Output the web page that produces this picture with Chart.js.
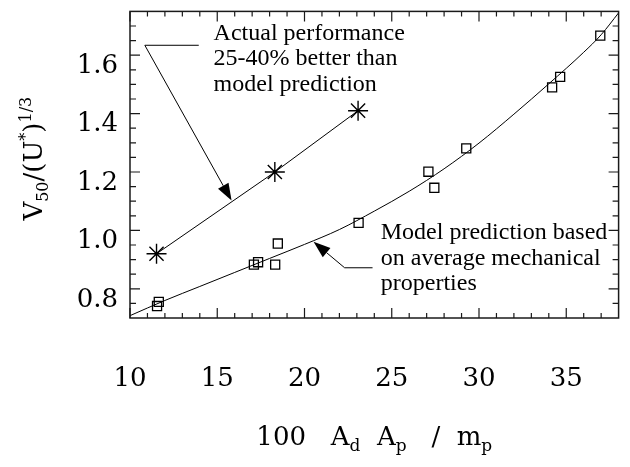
<!DOCTYPE html>
<html><head><meta charset="utf-8">
<script src="https://cdn.jsdelivr.net/npm/chart.js@4.4.1/dist/chart.umd.min.js"></script>
<style>html,body{margin:0;padding:0;background:#fff;}canvas{display:block;}</style>
</head><body>
<canvas id="c" width="630" height="467"></canvas>
<script>
// ---- data ----
const starX = [11.52, 18.30, 23.07];
const starY = [0.92, 1.20, 1.41];
const squareX = [11.55, 11.65, 17.10, 17.34, 18.32, 18.47, 23.10, 27.10, 27.44, 29.27, 34.19, 34.65, 36.95];
const squareY = [0.741, 0.755, 0.883, 0.891, 0.883, 0.955, 1.026, 1.201, 1.146, 1.281, 1.490, 1.526, 1.667];
const modelX = [10, 12, 14, 16, 18, 20, 22, 24, 26, 28, 30, 32, 34, 36, 37, 38];
const modelY = [0.708, 0.760, 0.808, 0.856, 0.904, 0.952, 1.003, 1.066, 1.134, 1.211, 1.299, 1.398, 1.502, 1.610, 1.670, 1.745];

const xTickValues = [10, 15, 20, 25, 30, 35];
const xTickLabels = ['10', '15', '20', '25', '30', '35'];
const yTickValues = [0.8, 1.0, 1.2, 1.4, 1.6];
const yTickLabels = ['0.8', '1.0', '1.2', '1.4', '1.6'];
const xMinorTicks = [11,12,13,14,16,17,18,19,21,22,23,24,26,27,28,29,31,32,33,34,36,37];
const yMinorTicks = [0.75,0.85,0.9,0.95,1.05,1.1,1.15,1.25,1.3,1.35,1.45,1.5,1.55,1.65,1.7];

const note1Lines = ['Actual performance', '25-40% better than', 'model prediction'];
const note2Lines = ['Model prediction based', 'on average mechanical', 'properties'];
// annotation anchors in data units
const note1Text = [14.79, [1.651, 1.565, 1.478]];
const note1Path = [[13.94, 1.634], [10.85, 1.634], [15.82, 1.102]];
const note2Text = [24.37, [0.971, 0.880, 0.795]];
const note2Path = [[23.90, 0.872], [22.30, 0.872], [20.52, 0.961]];

const SERIF = '"DejaVu Serif", serif';
const TIMES = '"Liberation Serif", "Times New Roman", serif';

function pts(xs, ys) { return xs.map((x, i) => ({ x: x, y: ys[i] })); }

function drawRich(ctx, segs, cx, baseY, big, small) {
  let total = 0;
  segs.forEach(s => {
    ctx.font = (s.k === 0 ? big : small) + 'px ' + SERIF;
    s.w = ctx.measureText(s.t).width; total += s.w;
  });
  let x = cx - total / 2;
  ctx.textAlign = 'left'; ctx.textBaseline = 'alphabetic';
  segs.forEach(s => {
    ctx.font = (s.k === 0 ? big : small) + 'px ' + SERIF;
    const dy = s.k === 1 ? big * 0.24 : (s.k === 2 ? -big * 0.42 : 0);
    ctx.fillText(s.t, x, baseY + dy);
    x += s.w;
  });
}

function arrowPath(ctx, path, xs, ys) {
  const p = path.map(q => [xs.getPixelForValue(q[0]), ys.getPixelForValue(q[1])]);
  const tip = p[p.length - 1], prev = p[p.length - 2];
  const dx = tip[0] - prev[0], dy = tip[1] - prev[1];
  const L = Math.hypot(dx, dy), ux = dx / L, uy = dy / L;
  const hl = 17, hw = 6;
  const bx = tip[0] - ux * hl, by = tip[1] - uy * hl;
  ctx.beginPath();
  ctx.moveTo(p[0][0], p[0][1]);
  for (let i = 1; i < p.length - 1; i++) ctx.lineTo(p[i][0], p[i][1]);
  ctx.lineTo(bx, by);
  ctx.lineWidth = 1; ctx.strokeStyle = '#000'; ctx.stroke();
  ctx.beginPath();
  ctx.moveTo(tip[0], tip[1]);
  ctx.lineTo(bx - uy * hw, by + ux * hw);
  ctx.lineTo(bx + uy * hw, by - ux * hw);
  ctx.closePath(); ctx.fillStyle = '#000'; ctx.fill();
}

const decor = {
  id: 'decor',
  afterDatasetsDraw(chart) {
    const ctx = chart.ctx, a = chart.chartArea;
    const xs = chart.scales.x, ys = chart.scales.y;
    ctx.save();
    // frame
    ctx.strokeStyle = '#1a1a1a'; ctx.lineWidth = 1.5;
    ctx.strokeRect(a.left, a.top, a.right - a.left, a.bottom - a.top);
    ctx.lineWidth = 1.2;
    ctx.beginPath();
    const xt = (v, len) => { const px = xs.getPixelForValue(v);
      ctx.moveTo(px, a.bottom); ctx.lineTo(px, a.bottom - len);
      ctx.moveTo(px, a.top); ctx.lineTo(px, a.top + len); };
    const yt = (v, len) => { const py = ys.getPixelForValue(v);
      ctx.moveTo(a.left, py); ctx.lineTo(a.left + len, py);
      ctx.moveTo(a.right, py); ctx.lineTo(a.right - len, py); };
    xTickValues.forEach(v => xt(v, 10));
    xMinorTicks.forEach(v => xt(v, 5));
    yTickValues.forEach(v => yt(v, 10));
    yMinorTicks.forEach(v => yt(v, 6));
    ctx.stroke();
    // annotations
    arrowPath(ctx, note1Path, xs, ys);
    arrowPath(ctx, note2Path, xs, ys);
    ctx.fillStyle = '#000'; ctx.font = '24px ' + TIMES;
    ctx.textAlign = 'left'; ctx.textBaseline = 'alphabetic';
    note1Lines.forEach((t, i) => ctx.fillText(t, xs.getPixelForValue(note1Text[0]), ys.getPixelForValue(note1Text[1][i])));
    note2Lines.forEach((t, i) => ctx.fillText(t, xs.getPixelForValue(note2Text[0]), ys.getPixelForValue(note2Text[1][i])));
    // axis titles
    drawRich(ctx, [
      { t: '100   A', k: 0 }, { t: 'd', k: 1 }, { t: '  A', k: 0 }, { t: 'p', k: 1 },
      { t: '   /  m', k: 0 }, { t: 'p', k: 1 }
    ], (a.left + a.right) / 2, 445, 26, 17);
    ctx.translate(42, (a.top + a.bottom) / 2 - 6);
    ctx.rotate(-Math.PI / 2);
    drawRich(ctx, [
      { t: 'V', k: 0 }, { t: '50', k: 1 }, { t: '/(U', k: 0 }, { t: '*', k: 2 },
      { t: ')', k: 0 }, { t: '1/3', k: 2 }
    ], 0, 0, 26, 16);
    ctx.restore();
  }
};

new Chart(document.getElementById('c'), {
  type: 'scatter',
  data: {
    datasets: [
      { data: pts(modelX, modelY), showLine: true, borderColor: '#000', borderWidth: 1,
        pointRadius: 0, cubicInterpolationMode: 'monotone', fill: false },
      { data: pts(squareX, squareY), showLine: false, pointStyle: 'rect', pointRadius: 6.4,
        pointBorderWidth: 1.3, borderColor: '#000', backgroundColor: 'rgba(0,0,0,0)' },
      { data: pts(starX, starY), showLine: true, borderColor: '#000', borderWidth: 1,
        pointStyle: 'star', pointRadius: 10, pointBorderWidth: 1.4, backgroundColor: 'rgba(0,0,0,0)' }
    ]
  },
  options: {
    responsive: false, animation: false, devicePixelRatio: 1,
    layout: { padding: { top: 8, right: 3, left: 0, bottom: 0 } },
    plugins: { legend: { display: false }, tooltip: { enabled: false }, title: { display: false } },
    scales: {
      x: {
        type: 'linear', min: 10, max: 38,
        afterBuildTicks: s => { s.ticks = xTickValues.map(v => ({ value: v })); },
        afterFit: s => { s.height = 149; s.paddingLeft = 0; s.paddingRight = 0; },
        grid: { display: false, drawTicks: false }, border: { display: false },
        ticks: { autoSkip: false, maxRotation: 0, padding: 46, color: '#000',
          font: { family: SERIF, size: 26 }, callback: (v, i) => xTickLabels[i] }
      },
      y: {
        type: 'linear', min: 0.7, max: 1.75,
        afterBuildTicks: s => { s.ticks = yTickValues.map(v => ({ value: v })); },
        afterFit: s => { s.width = 130; s.paddingTop = 0; s.paddingBottom = 0; },
        grid: { display: false, drawTicks: false }, border: { display: false },
        ticks: { autoSkip: false, padding: 12, labelOffset: 11, color: '#000',
          font: { family: SERIF, size: 26 }, callback: (v, i) => yTickLabels[i] }
      }
    }
  },
  plugins: [decor]
});
</script>
</body></html>
